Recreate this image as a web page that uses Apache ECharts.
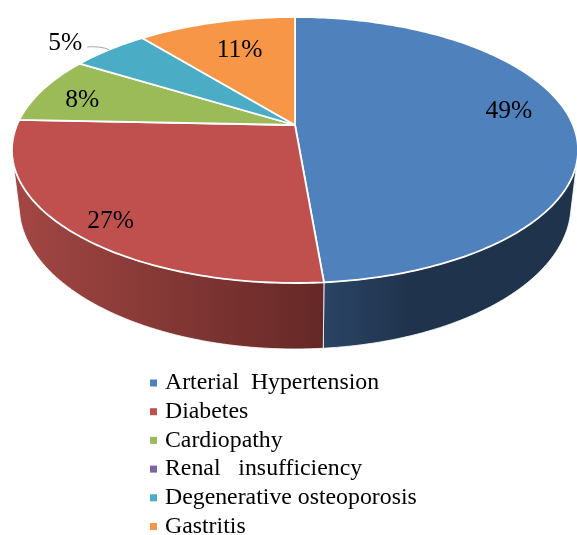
<!DOCTYPE html>
<html><head><meta charset="utf-8">
<style>html,body{margin:0;padding:0;background:#fff}#c{width:577px;height:535px}</style>
<script src="https://cdn.jsdelivr.net/npm/echarts@6/dist/echarts.min.js"></script>
</head><body><div id="c"></div>
<script>
const categories = ['Arterial  Hypertension','Diabetes','Cardiopathy','Renal   insufficiency','Degenerative osteoporosis','Gastritis'];
const values = [48.65, 27.0, 8.15, 0, 5.35, 10.85];
const topColors = ['#4f81bd','#c0504d','#9bbb59','#8064a2','#4bacc6','#f79646'];
const sideStops = [
  [[0,'#2b4465'],[0.35,'#1f334c'],[1,'#1f334c']],
  [[0,'#a34744'],[1,'#652826']],
  null,null,null,null
];
// label placement in pie-plane polar terms (fraction of radius, degrees of turn from slice middle)
const labelRadius = [0.798,0.868,0.827,0,1.203,0.713];
const labelTurn = [-6.7,-1.5,-1.5,0,-2.9,1.2];
const LABEL_DY = 2.5;

const APEX = {x:295,y:125}, TILT = {a:128.3,c:278,k:0.188};
const TOP = {cx:295,cy:150,rx:283,ry:133};
const BASE = {cx:295,cy:205,rx:276,ry:144};
const SIDE_VIEW = {from:5,to:175,baseFrom:3,baseTo:174};
const total = values.reduce((a,b)=>a+b,0);
const rad = d=>d*Math.PI/180;

function project(deg,r){
  const x=r*Math.sin(rad(deg)), y=-r*Math.cos(rad(deg));
  const w=1-TILT.k*y;
  return [APEX.x+TILT.c*x/w, APEX.y+TILT.a*y/w];
}
function rimPhi(deg){
  const p=project(deg,1);
  let phi=Math.atan2((p[1]-TOP.cy)/TOP.ry,(p[0]-TOP.cx)/TOP.rx)*180/Math.PI;
  if(phi<-90.001) phi+=360;
  return phi;
}
const onEllipse=(e,phi)=>[e.cx+e.rx*Math.cos(rad(phi)), e.cy+e.ry*Math.sin(rad(phi))];

function renderSlice(index){
  return function(params,api){
    const v=api.value(0);
    const children=[];
    if(!v) return {type:'group',children};
    const start=values.slice(0,index).reduce((a,b)=>a+b,0)/total*360;
    const end=start+v/total*360;
    const mid=(start+end)/2;
    // side wall
    const pa=Math.max(rimPhi(start),SIDE_VIEW.from), pb=Math.min(rimPhi(end),SIDE_VIEW.to);
    if(pb>pa && sideStops[index]){
      const pts=[];
      const n=60;
      for(let i=0;i<=n;i++) pts.push(onEllipse(TOP,pa+(pb-pa)*i/n));
      const ba=pa<=SIDE_VIEW.from?SIDE_VIEW.baseFrom:pa;
      const bb=pb>=SIDE_VIEW.to?SIDE_VIEW.baseTo:pb;
      for(let i=0;i<=n;i++) pts.push(onEllipse(BASE,bb+(ba-bb)*i/n));
      children.push({type:'polygon',shape:{points:pts},z2:1,style:{
        fill:new echarts.graphic.LinearGradient(0,0,1,0,sideStops[index].map(s=>({offset:s[0],color:s[1]}))),
        stroke:'#fff',lineWidth:0.8}});
    }
    // top face
    const face=[[APEX.x,APEX.y]];
    const steps=Math.max(8,Math.ceil(end-start));
    for(let i=0;i<=steps;i++) face.push(project(start+(end-start)*i/steps,1));
    children.push({type:'polygon',shape:{points:face},z2:2,style:{fill:topColors[index],stroke:'#fff',lineWidth:1.8,lineJoin:'round'}});
    // label
    const lp=project(mid+labelTurn[index],labelRadius[index]);
    if(labelRadius[index]>1){
      const rim=project(mid,1);
      children.push({type:'bezierCurve',z2:3,shape:{x1:lp[0]+22,y1:lp[1]+6,cpx1:lp[0]+35,cpy1:lp[1]+5,x2:rim[0],y2:rim[1]},
        style:{stroke:'#a6a6a6',lineWidth:1,fill:null}});
    }
    children.push({type:'text',z2:4,style:{text:Math.round(v/total*100)+'%',x:lp[0],y:lp[1]+LABEL_DY,align:'center',verticalAlign:'middle',
      font:'25.5px "Liberation Serif"',fill:'#000'}});
    return {type:'group',children};
  };
}

const chart=echarts.init(document.getElementById('c'),null,{renderer:'canvas'});
chart.setOption({
  animation:false,
  backgroundColor:'#fff',
  legend:{
    orient:'vertical',left:150,top:371,height:200,padding:0,itemWidth:7,itemHeight:7,itemGap:4.7,icon:'rect',
    selectedMode:false,
    data:categories,
    textStyle:{fontFamily:'Liberation Serif',fontSize:23.8,color:'#000',lineHeight:24,padding:[0,0,0,3]}
  },
  series:categories.map((name,i)=>({
    type:'custom',name,coordinateSystem:'none',silent:true,
    itemStyle:{color:topColors[i]},
    renderItem:renderSlice(i),
    data:[[values[i]]]
  }))
});
</script></body></html>
